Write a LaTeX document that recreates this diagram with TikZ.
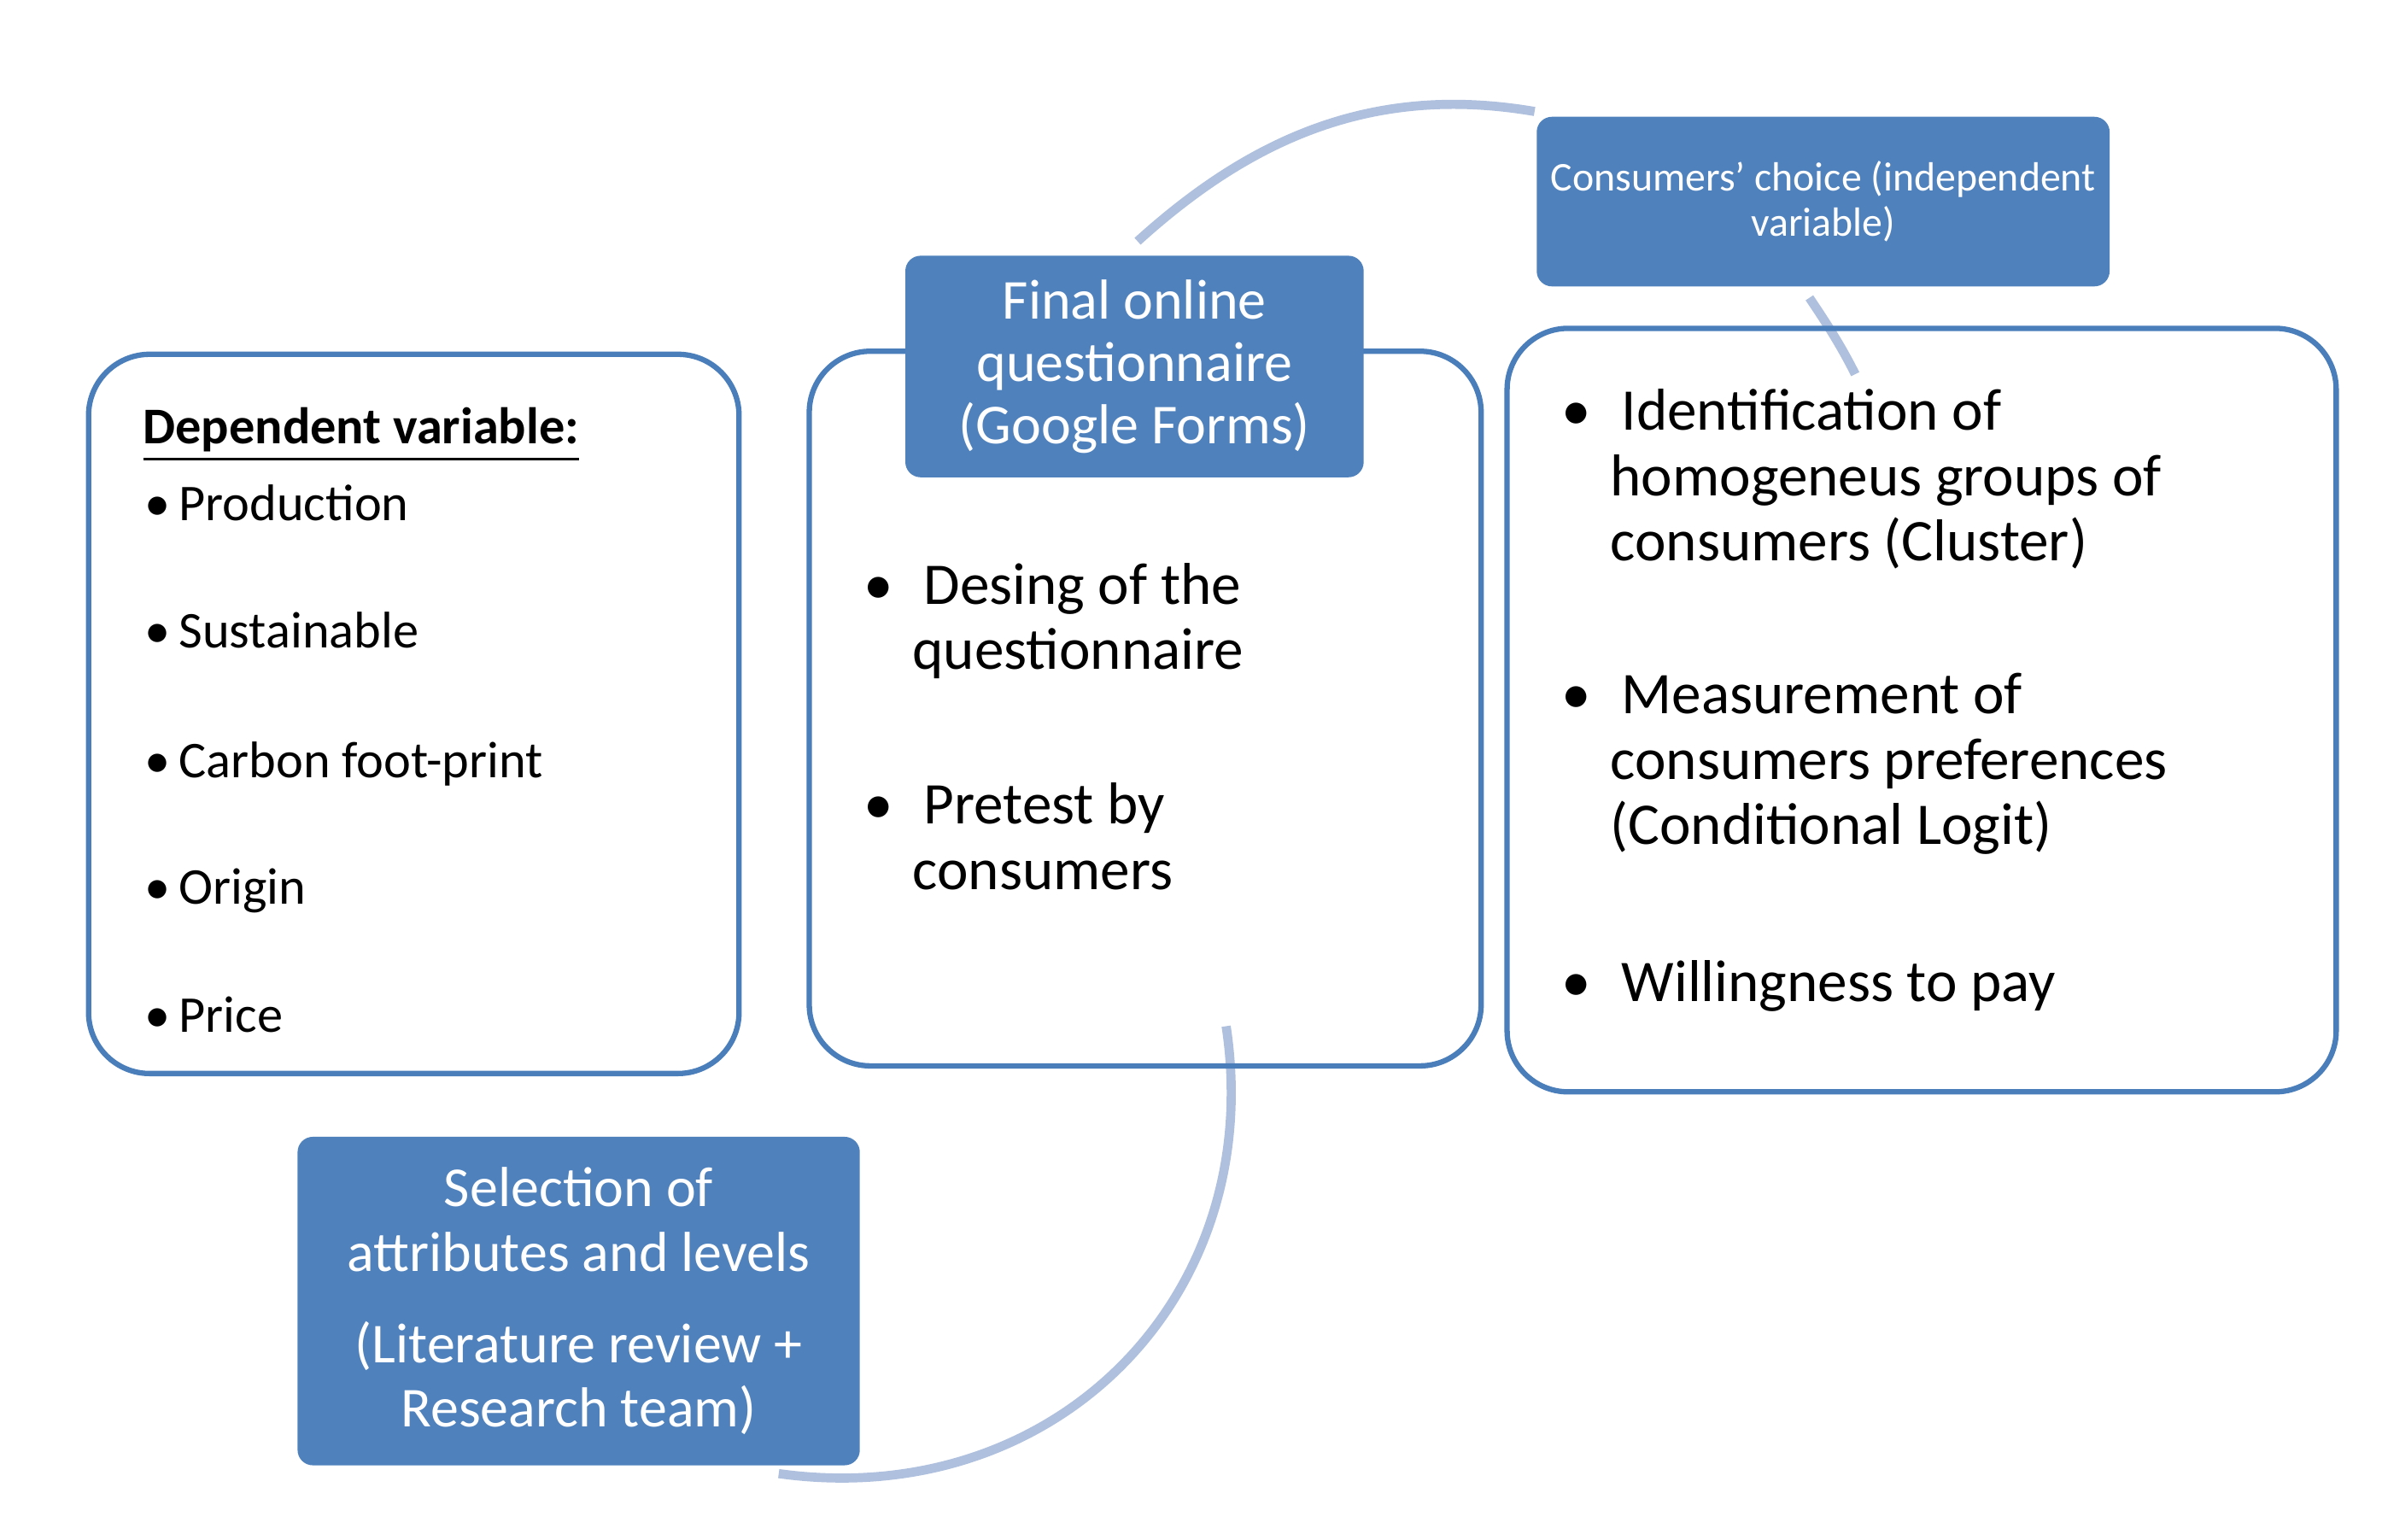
\documentclass[tikz,border=0pt]{standalone}
\usepackage{fontspec}
\setmainfont{Carlito}
\begin{document}
\begin{tikzpicture}[x=0.01cm,y=-0.01cm,
 frame/.style={draw=blue1,line width=1pt,rounded corners=0.4cm},
 fbox/.style={fill=blue2,rounded corners=0.1cm,text=white,align=center,inner sep=0pt},
 arc/.style={draw=arcc,line width=1.7pt},
 txt/.style={anchor=north west,align=left,inner sep=0pt},
 big/.style={font=\fontsize{11}{12.2}\selectfont}]
\definecolor{blue1}{HTML}{4A7EBB}
\definecolor{blue2}{HTML}{4F81BD}
\definecolor{arcc}{HTML}{AFC0DE}
\useasboundingbox (0,0) rectangle (1560,1008);
% arcs
\draw[arc] (745,158) .. controls (820,90) and (900,55) .. (1005,73);
\draw[arc] (1185,195) .. controls (1195,210) and (1205,225) .. (1215,245);
\draw[arc] (803,672) .. controls (830,850) and (690,990) .. (510,965);
% frames
\draw[frame] (58,232) rectangle (484,703);
\draw[frame] (530,230) rectangle (970,698);
\draw[frame] (987,215) rectangle (1530,715);
% filled boxes
\node[fbox,minimum width=3cm,minimum height=1.45cm,font=\fontsize{10.5}{11.6}\selectfont] (fin) at (743,240) {Final online\\questionnaire\\(Google Forms)};
\node[fbox,minimum width=3.75cm,minimum height=1.11cm,font=\fontsize{7.6}{8.4}\selectfont] (cc) at (1194,132) {Consumers’ choice (independent\\variable)};
\node[fbox,minimum width=3.68cm,minimum height=2.15cm,font=\fontsize{10.5}{12}\selectfont] (sel) at (379,852) {Selection of\\attributes and levels\\[5pt](Literature review +\\Research team)};
% left texts
\node[txt,font=\fontsize{9.6}{11}\selectfont\bfseries] (dv) at (93,266) {\underline{Dependent variable:}};
\foreach \t/\y [count=\i] in {Production/317,Sustainable/400,Carbon foot-print/485,Origin/568,Price/652}
  \node[txt,font=\fontsize{9.6}{11}\selectfont] (l\i) at (94,\y) {\textbullet\,\t};
% middle
\node[txt,big] (m1) at (565,368) {\textbullet\hspace{0.2cm}Desing of the\\\hspace*{0.32cm}questionnaire};
\node[txt,big] (m2) at (565,512) {\textbullet\hspace{0.2cm}Pretest by\\\hspace*{0.32cm}consumers};
% right
\node[txt,big] (r1) at (1022,254) {\textbullet\hspace{0.2cm}Identification of\\\hspace*{0.32cm}homogeneus groups of\\\hspace*{0.32cm}consumers (Cluster)};
\node[txt,big] (r2) at (1022,440) {\textbullet\hspace{0.2cm}Measurement of\\\hspace*{0.32cm}consumers preferences\\\hspace*{0.32cm}(Conditional Logit)};
\node[txt,big] (r3) at (1022,628) {\textbullet\hspace{0.2cm}Willingness to pay};
\end{tikzpicture}
\end{document}
